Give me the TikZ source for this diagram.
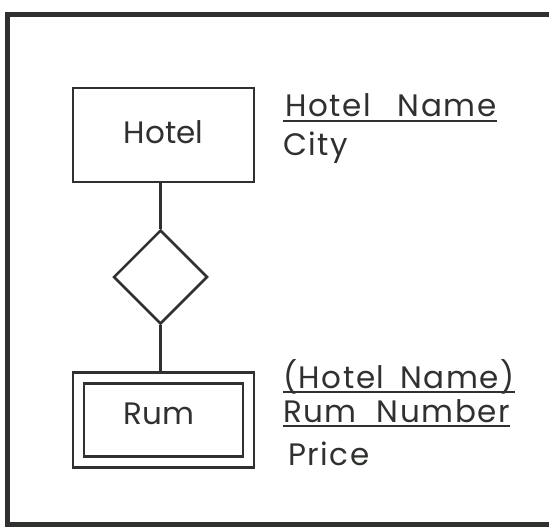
\documentclass[tikz,border=0pt]{standalone}
\usepackage{fontspec}
\setmainfont{Poppins}
\newfontfamily\attrfont[LetterSpace=5]{Poppins}
\usetikzlibrary{shapes.geometric}
\definecolor{ink}{HTML}{2E312E}
\tikzset{
  entity/.style={draw=ink, line width=2.5pt, inner sep=0pt, text=ink},
  rel/.style={draw=ink, line width=2.5pt, shape=diamond, inner sep=0pt, minimum size=94pt},
  lbl/.style={anchor=base, inner sep=0pt, text=ink, font=\fontsize{31}{36}\selectfont},
  attr/.style={anchor=base west, inner sep=0pt, text=ink, font=\attrfont\fontsize{31}{36}\selectfont},
  conn/.style={draw=ink, line width=2.5pt},
  uline/.style={draw=ink, line width=2.5pt},
}
\begin{document}
\begin{tikzpicture}[x=1pt,y=-1pt]
\useasboundingbox (0,0) rectangle (549,527);
\clip (0,0) rectangle (549,527);
\draw[draw=ink, line width=5pt] (7.5,14.5) rectangle (600,524);
\node[entity, minimum width=181pt, minimum height=94pt] (hotel) at (163.5,135) {};
\node[lbl] (hoteltxt) at (163.5,143) {Hotel};
\node[rel] (r) at (160.5,277) {};
\node[entity, double=white, double distance=8.5pt, outer sep=6.75pt, minimum width=170pt, minimum height=84pt] (rum) at (163.5,420) {};
\node[lbl] (rumtxt) at (159,424) {Rum};
\draw[conn] (r.north |- hotel.south) -- (r.north);
\draw[conn] (r.south) -- (r.south |- rum.north);
\node[attr] (hn) at (285,117) {Hotel\hspace{27pt}Name};
\node[attr] (city) at (283,155) {City};
\node[attr] (hn2) at (283,388) {(Hotel\hspace{16pt}Name)};
\node[attr] (rn) at (283,422) {Rum\hspace{20pt}Number};
\node[attr] (price) at (288,465) {Price};
\draw[uline] (hn.base west) ++(-2,4) coordinate (u1a) -- (u1a -| hn.base east);
\draw[uline] (hn2.base west) ++(0,4) coordinate (u2a) -- (u2a -| hn2.base east);
\draw[uline] (rn.base west) ++(0,4) coordinate (u3a) -- (u3a -| rn.base east);
\end{tikzpicture}
\end{document}
